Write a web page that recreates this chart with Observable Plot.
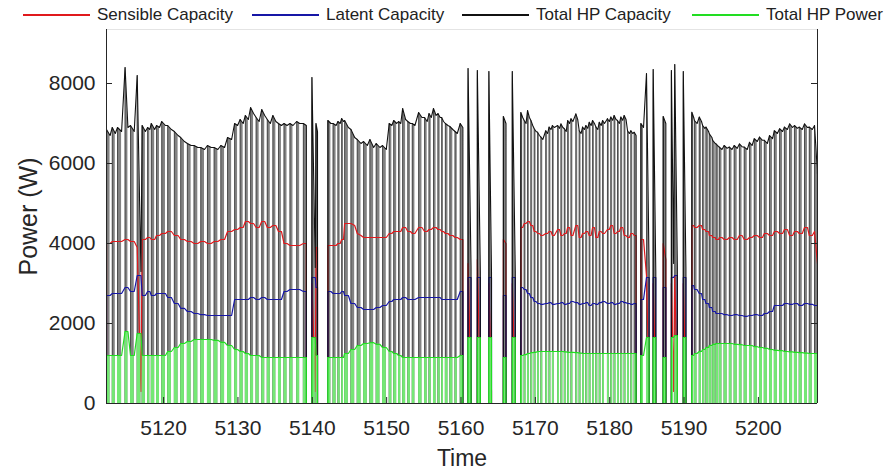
<!DOCTYPE html>
<html>
<head>
<meta charset="utf-8">
<script src="https://cdn.jsdelivr.net/npm/d3@7"></script>
<script src="https://cdn.jsdelivr.net/npm/@observablehq/plot@0.6"></script>
<style>
  html, body { margin: 0; padding: 0; background: #fff; }
  #wrap { position: relative; width: 890px; height: 472px; font-family: "Liberation Sans", Arial, sans-serif; }
  .leg { position: absolute; top: 4px; height: 22px; line-height: 22px; font-size: 17px; color: #222; white-space: nowrap; }
  .legline { position: absolute; top: 14px; height: 1.5px; width: 67px; }
</style>
</head>
<body>
<div id="wrap"></div>
<script>
// ---- Data (one entry per compressor cycling burst) ----
const xTicks = [5120, 5130, 5140, 5150, 5160, 5170, 5180, 5190, 5200];
const yTicks = [0, 2000, 4000, 6000, 8000];
const seriesNames = ["Sensible Capacity", "Latent Capacity", "Total HP Capacity", "Total HP Power"];

const tOn = [
  5112.32, 5113.10, 5113.80, 5114.82, 5115.55, 5116.45, 5117.12, 5117.85, 5118.35, 5119.05,
  5119.75, 5120.55, 5121.45, 5122.30, 5123.20, 5124.10, 5125.00, 5125.90, 5126.80, 5127.70, 5128.60,
  5129.55, 5130.30, 5131.00, 5131.70, 5132.45, 5133.20, 5133.95, 5134.70, 5135.45, 5136.20, 5137.00, 5137.90, 5138.80,
  5139.95, 5140.50,
  5142.10, 5142.80, 5143.45, 5143.95, 5144.35, 5145.20, 5146.05, 5146.90, 5147.75, 5148.60, 5149.45,
  5150.35, 5150.95, 5151.60, 5152.15, 5152.85, 5153.45, 5154.30, 5155.10, 5155.70, 5156.30, 5156.90, 5157.40, 5157.90, 5158.50, 5159.20,
  5159.90, 5160.95, 5162.20, 5163.75, 5165.70, 5166.90,
  5168.05, 5168.50, 5168.95, 5169.40, 5169.85, 5170.30, 5170.75, 5171.40, 5171.85, 5172.30, 5173.00, 5173.45, 5173.90, 5174.35, 5174.80, 5175.45, 5175.90, 5176.35, 5176.80, 5177.25, 5177.70, 5178.15, 5178.60, 5179.05, 5179.70, 5180.15, 5180.60, 5181.05, 5181.50, 5181.95, 5182.40, 5182.85, 5183.30,
  5184.20, 5184.95, 5185.85, 5187.20, 5188.30, 5188.75, 5189.90,
  5191.05, 5191.40, 5192.05, 5192.50, 5192.95, 5193.40, 5193.85, 5194.30, 5194.75, 5195.40, 5196.10, 5196.75, 5197.45, 5198.10, 5198.80, 5199.45, 5200.15, 5200.80, 5201.50, 5202.15, 5202.85, 5203.50, 5204.20, 5204.85, 5205.50, 5206.20, 5206.85, 5207.55
];
const tOff = [
  5112.80, 5113.50, 5114.35, 5115.20, 5116.05, 5116.95, 5117.55, 5118.15, 5118.80, 5119.45,
  5120.25, 5121.05, 5121.95, 5122.80, 5123.70, 5124.60, 5125.50, 5126.40, 5127.30, 5128.20, 5129.15,
  5129.95, 5130.70, 5131.40, 5132.10, 5132.85, 5133.60, 5134.35, 5135.10, 5135.85, 5136.60, 5137.40, 5138.30, 5139.20,
  5140.40, 5140.70,
  5142.50, 5143.20, 5143.75, 5144.20, 5144.85, 5145.70, 5146.55, 5147.40, 5148.25, 5149.10, 5149.95,
  5150.70, 5151.35, 5151.90, 5152.55, 5153.20, 5153.80, 5154.75, 5155.45, 5156.00, 5156.65, 5157.20, 5157.65, 5158.25, 5158.90, 5159.50,
  5160.25, 5161.35, 5162.60, 5164.10, 5166.05, 5167.30,
  5168.30, 5168.75, 5169.20, 5169.65, 5170.10, 5170.55, 5171.00, 5171.65, 5172.10, 5172.55, 5173.25, 5173.70, 5174.15, 5174.60, 5175.05, 5175.70, 5176.15, 5176.60, 5177.05, 5177.50, 5177.95, 5178.40, 5178.85, 5179.30, 5179.95, 5180.40, 5180.85, 5181.30, 5181.75, 5182.20, 5182.65, 5183.10, 5183.55,
  5184.55, 5185.30, 5186.20, 5187.55, 5188.60, 5189.10, 5190.25,
  5191.30, 5191.75, 5192.35, 5192.80, 5193.30, 5193.75, 5194.20, 5194.65, 5195.10, 5195.80, 5196.45, 5197.15, 5197.80, 5198.50, 5199.15, 5199.85, 5200.55, 5201.20, 5201.90, 5202.55, 5203.25, 5203.90, 5204.60, 5205.25, 5205.90, 5206.60, 5207.25, 5208.10
];
const capacityStart = [
  6850, 6900, 6900, 8400, 6950, 8200, 6950, 6900, 7000, 6950,
  7050, 6950, 6800, 6650, 6500, 6450, 6400, 6450, 6400, 6450, 6650,
  7000, 7100, 7200, 7400, 7150, 7350, 7100, 7200, 7000, 7000, 7000, 7050, 7000,
  8150, 7000,
  7075, 7000, 7050, 7125, 7075, 6850, 6600, 6550, 6600, 6500, 6450,
  7000, 7075, 7050, 7375, 7050, 7000, 7275, 7150, 7250, 7375, 7250, 7150, 7000, 6925, 6800,
  7000, 8375, 8325, 8300, 7175, 8300,
  7275, 7075, 7325, 7075, 6870, 6780, 6660, 6820, 6910, 6950, 6950, 6990, 6870, 7075, 7120, 7240, 6820, 6910, 6950, 7030, 7075, 6910, 7030, 7075, 7120, 7160, 7200, 7075, 7160, 7200, 6820, 6820, 6780,
  7000, 8250, 8350, 7175, 8325, 8475, 8300,
  7280, 7075, 7160, 6950, 6910, 6740, 6580, 6490, 6410, 6450, 6410, 6450, 6490, 6410, 6530, 6620, 6660, 6580, 6700, 6820, 6870, 6910, 6990, 6950, 6910, 6990, 6910, 6950
];
const capacityEnd = [
  6700, 6750, 6800, 6900, 6800, 3300, 6800, 6850, 6850, 6900,
  6950, 6850, 6700, 6550, 6450, 6400, 6350, 6400, 6350, 6400, 6600,
  6950, 7000, 7100, 7250, 7050, 7200, 7000, 7050, 6950, 6950, 6950, 7000, 6950,
  3400, 6800,
  7000, 6950, 7000, 7050, 6900, 6650, 6500, 6450, 6400, 6400, 6350,
  6950, 7000, 7000, 7100, 7000, 6950, 7150, 7050, 7150, 7200, 7150, 7050, 6950, 6850, 6750,
  6900, 3400, 3300, 3300, 7000, 3300,
  7150, 7000, 7150, 6950, 6800, 6700, 6600, 6750, 6850, 6900, 6880, 6900, 6800, 7000, 7050, 7100, 6750, 6850, 6880, 6950, 7000, 6850, 6950, 7000, 7050, 7080, 7100, 7000, 7080, 7100, 6750, 6750, 6700,
  6900, 3400, 3300, 7000, 3500, 3400, 3400,
  7150, 7000, 7050, 6880, 6800, 6650, 6500, 6420, 6350, 6380, 6350, 6380, 6420, 6350, 6450, 6550, 6580, 6500, 6620, 6750, 6800, 6850, 6900, 6880, 6850, 6900, 6850, 5300
];
const sensibleStart = [
  4000, 4050, 4050, 4100, 4050, 3900, 4100, 4150, 4100, 4200,
  4250, 4300, 4200, 4100, 4050, 4000, 4050, 4000, 4050, 4100, 4300,
  4350, 4400, 4550, 4500, 4400, 4550, 4400, 4450, 4300, 4000, 3950, 3950, 4000,
  3000, 3900,
  3950, 3950, 4000, 4100, 4500, 4500, 4250, 4150, 4150, 4150, 4150,
  4250, 4300, 4300, 4400, 4300, 4250, 4400, 4300, 4350, 4400, 4350, 4300, 4250, 4200, 4150,
  4100, 3500, 3600, 3000, 4100, 3000,
  4400, 4500, 4550, 4450, 4300, 4250, 4200, 4250, 4300, 4200, 4350, 4200, 4250, 4400, 4200, 4450, 4150, 4250, 4300, 4200, 4400, 4150, 4300, 4250, 4350, 4450, 4250, 4300, 4400, 4200, 4150, 4250, 4200,
  4100, 3200, 3000, 4000, 3000, 3200, 3000,
  4450, 4400, 4450, 4350, 4300, 4200, 4150, 4100, 4150, 4100, 4150, 4100, 4200, 4100, 4150, 4200, 4150, 4250, 4200, 4300, 4250, 4350, 4200, 4300, 4250, 4400, 4200, 4300
];
const sensibleEnd = [
  4000, 4050, 4050, 4100, 4050, 300, 4100, 4150, 4100, 4200,
  4250, 4300, 4200, 4100, 4050, 4000, 4050, 4000, 4050, 4100, 4300,
  4350, 4400, 4550, 4500, 4400, 4550, 4400, 4450, 4300, 4000, 3950, 3950, 4000,
  300, 3900,
  3950, 3950, 4000, 4100, 4500, 4450, 4200, 4150, 4150, 4150, 4150,
  4250, 4300, 4300, 4400, 4300, 4250, 4400, 4300, 4350, 4400, 4350, 4300, 4250, 4200, 4150,
  4100, 300, 300, 300, 4000, 300,
  4400, 4500, 4550, 4450, 4300, 4250, 4200, 4250, 4300, 4200, 4350, 4200, 4250, 4400, 4200, 4450, 4150, 4250, 4300, 4200, 4400, 4150, 4300, 4250, 4350, 4450, 4250, 4300, 4400, 4200, 4150, 4250, 4200,
  4100, 400, 300, 3600, 300, 300, 300,
  4450, 4400, 4450, 4350, 4300, 4200, 4150, 4100, 4150, 4100, 4150, 4100, 4200, 4100, 4150, 4200, 4150, 4250, 4200, 4300, 4250, 4350, 4200, 4300, 4250, 4400, 4200, 3200
];
const latent = [
  2700, 2750, 2750, 2900, 2800, 3200, 2700, 2800, 2700, 2750,
  2750, 2650, 2500, 2380, 2300, 2250, 2220, 2200, 2200, 2200, 2200,
  2600, 2600, 2600, 2650, 2600, 2650, 2600, 2600, 2600, 2800, 2850, 2850, 2800,
  3150, 2900,
  2800, 2750, 2750, 2800, 2700, 2500, 2400, 2350, 2350, 2400, 2450,
  2550, 2600, 2600, 2650, 2600, 2600, 2650, 2650, 2650, 2650, 2650, 2600, 2600, 2600, 2600,
  2800, 3150, 3150, 3150, 2700, 3150,
  2900, 2850, 2750, 2650, 2550, 2500, 2480, 2500, 2520, 2480, 2500, 2520, 2480, 2500, 2550, 2520, 2480, 2500, 2520, 2450, 2500, 2480, 2520, 2550, 2500, 2520, 2480, 2500, 2550, 2520, 2500, 2480, 2500,
  2600, 3150, 3150, 2900, 3150, 3200, 3150,
  2950, 2850, 2750, 2600, 2500, 2400, 2300, 2250, 2250, 2220, 2200, 2220, 2200, 2180, 2200, 2220, 2200, 2250, 2300, 2450, 2450, 2500, 2480, 2500, 2450, 2500, 2480, 2450
];
const power = [
  1200, 1200, 1200, 1800, 1200, 1750, 1200, 1200, 1200, 1200,
  1200, 1300, 1400, 1500, 1550, 1600, 1600, 1600, 1580, 1530, 1450,
  1350, 1300, 1250, 1200, 1200, 1150, 1150, 1150, 1150, 1150, 1150, 1150, 1150,
  1650, 1200,
  1150, 1150, 1150, 1150, 1250, 1350, 1450, 1500, 1520, 1480, 1400,
  1300, 1250, 1200, 1150, 1150, 1150, 1150, 1150, 1150, 1150, 1150, 1150, 1150, 1150, 1150,
  1200, 1650, 1650, 1650, 1150, 1650,
  1200, 1220, 1250, 1270, 1280, 1300, 1300, 1300, 1300, 1300, 1300, 1300, 1290, 1280, 1280, 1270, 1260, 1250, 1250, 1250, 1250, 1250, 1250, 1250, 1250, 1250, 1250, 1250, 1250, 1250, 1250, 1250, 1250,
  1200, 1650, 1650, 1150, 1650, 1700, 1650,
  1200, 1250, 1300, 1350, 1400, 1450, 1480, 1500, 1500, 1500, 1500, 1480, 1470, 1450, 1450, 1420, 1400, 1380, 1350, 1330, 1320, 1300, 1290, 1280, 1270, 1260, 1250, 1250
];

const colors = ["#e0191c", "#1616a6", "#111111", "#22dd22"];
const xDomain = [5112.32, 5207.95];
const yDomain = [0, 9350];
const offGap = 0.5; // a pause longer than this is a true OFF period (all signals at 0)

const arrs = {tOff, capacityStart, capacityEnd, sensibleStart, sensibleEnd, latent, power};
for (const [k, a] of Object.entries(arrs)) {
  if (a.length !== tOn.length) throw new Error(k + " length " + a.length + " != " + tOn.length);
}

function columns(startVals, endVals) {
  const pts = [];
  for (let i = 0; i < tOn.length; i++) {
    pts.push({t: tOn[i], v: 0}, {t: tOn[i], v: startVals[i]}, {t: tOff[i], v: endVals[i]}, {t: tOff[i], v: 0});
  }
  return pts;
}
function envelope(startVals, endVals) {
  const pts = [];
  for (let i = 0; i < tOn.length; i++) {
    const newRun = i === 0 || tOn[i] - tOff[i - 1] > offGap;
    if (newRun) {
      if (i > 0) pts.push({t: tOff[i - 1], v: 0});
      pts.push({t: tOn[i], v: 0});
    }
    pts.push({t: tOn[i], v: startVals[i]}, {t: tOff[i], v: endVals[i]});
  }
  pts.push({t: tOff[tOn.length - 1], v: 0});
  return pts;
}
const edges = tOn.map((t, i) => ({t, v: capacityStart[i]}));

const capCols = columns(capacityStart, capacityEnd);
const powCols = columns(power, power);
const capEnv = envelope(capacityStart, capacityEnd);
const sensEnv = envelope(sensibleStart, sensibleEnd);
const latEnv = envelope(latent, latent);
const powEnv = envelope(power, power);

const chart = Plot.plot({
  width: 890,
  height: 472,
  marginLeft: 106,
  marginRight: 73,
  marginTop: 29,
  marginBottom: 69,
  style: {fontFamily: "'Liberation Sans', Arial, sans-serif", fontSize: "21px", color: "#262626", background: "#fff"},
  x: {domain: xDomain},
  y: {domain: yDomain},
  marks: [
    Plot.areaY(capCols, {x: "t", y: "v", fill: "#828282", clip: true}),
    Plot.ruleX(edges, {x: "t", y1: 0, y2: "v", stroke: "#2a2a2a", strokeWidth: 0.6, clip: true}),
    Plot.line(sensEnv, {x: "t", y: "v", stroke: colors[0], strokeWidth: 1.2, clip: true}),
    Plot.line(latEnv, {x: "t", y: "v", stroke: colors[1], strokeWidth: 1.2, clip: true}),
    Plot.line(capEnv, {x: "t", y: "v", stroke: colors[2], strokeWidth: 1.1, clip: true}),
    Plot.areaY(powCols, {x: "t", y: "v", fill: "#74e874", clip: true}),
    Plot.line(powEnv, {x: "t", y: "v", stroke: colors[3], strokeWidth: 1.2, clip: true}),
    Plot.ruleY([yDomain[1]], {stroke: "#e4e4e4"}),
    Plot.ruleX([xDomain[0], xDomain[1]], {stroke: "#262626", strokeWidth: 1}),
    Plot.ruleY([0], {stroke: "#262626", strokeWidth: 1}),
    Plot.tickY(yTicks.filter(d => d > 0), {y: d => d, insetRight: 705, stroke: "#262626"}),
    Plot.tickY(yTicks.filter(d => d > 0), {y: d => d, insetLeft: 705, stroke: "#262626"}),
    Plot.tickX(xTicks, {x: d => d, insetTop: 368, stroke: "#262626"}),
    Plot.axisX({ticks: xTicks, tickSize: 0, tickPadding: 17, tickFormat: d => String(d), label: null, fontSize: 21}),
    Plot.axisY({ticks: yTicks, tickSize: 0, tickPadding: 11, tickFormat: d => String(d), label: null, fontSize: 21}),
    Plot.text(["Time"], {frameAnchor: "bottom", dy: 62, lineAnchor: "bottom", fontSize: 23, fill: "#262626"}),
    Plot.text(["Power (W)"], {frameAnchor: "left", textAnchor: "middle", dx: -78, rotate: -90, fontSize: 25, fill: "#262626"})
  ]
});

const wrap = document.getElementById("wrap");
wrap.appendChild(chart);
chart.style.position = "absolute";
chart.style.left = "0";
chart.style.top = "0";

const legendPos = [[23, 97], [252, 326], [462, 536], [692, 766]];
seriesNames.forEach((name, i) => {
  const ln = document.createElement("div");
  ln.className = "legline";
  ln.style.left = legendPos[i][0] + "px";
  ln.style.background = colors[i];
  wrap.appendChild(ln);
  const tx = document.createElement("div");
  tx.className = "leg";
  tx.style.left = legendPos[i][1] + "px";
  tx.textContent = name;
  wrap.appendChild(tx);
});
</script>
</body>
</html>
